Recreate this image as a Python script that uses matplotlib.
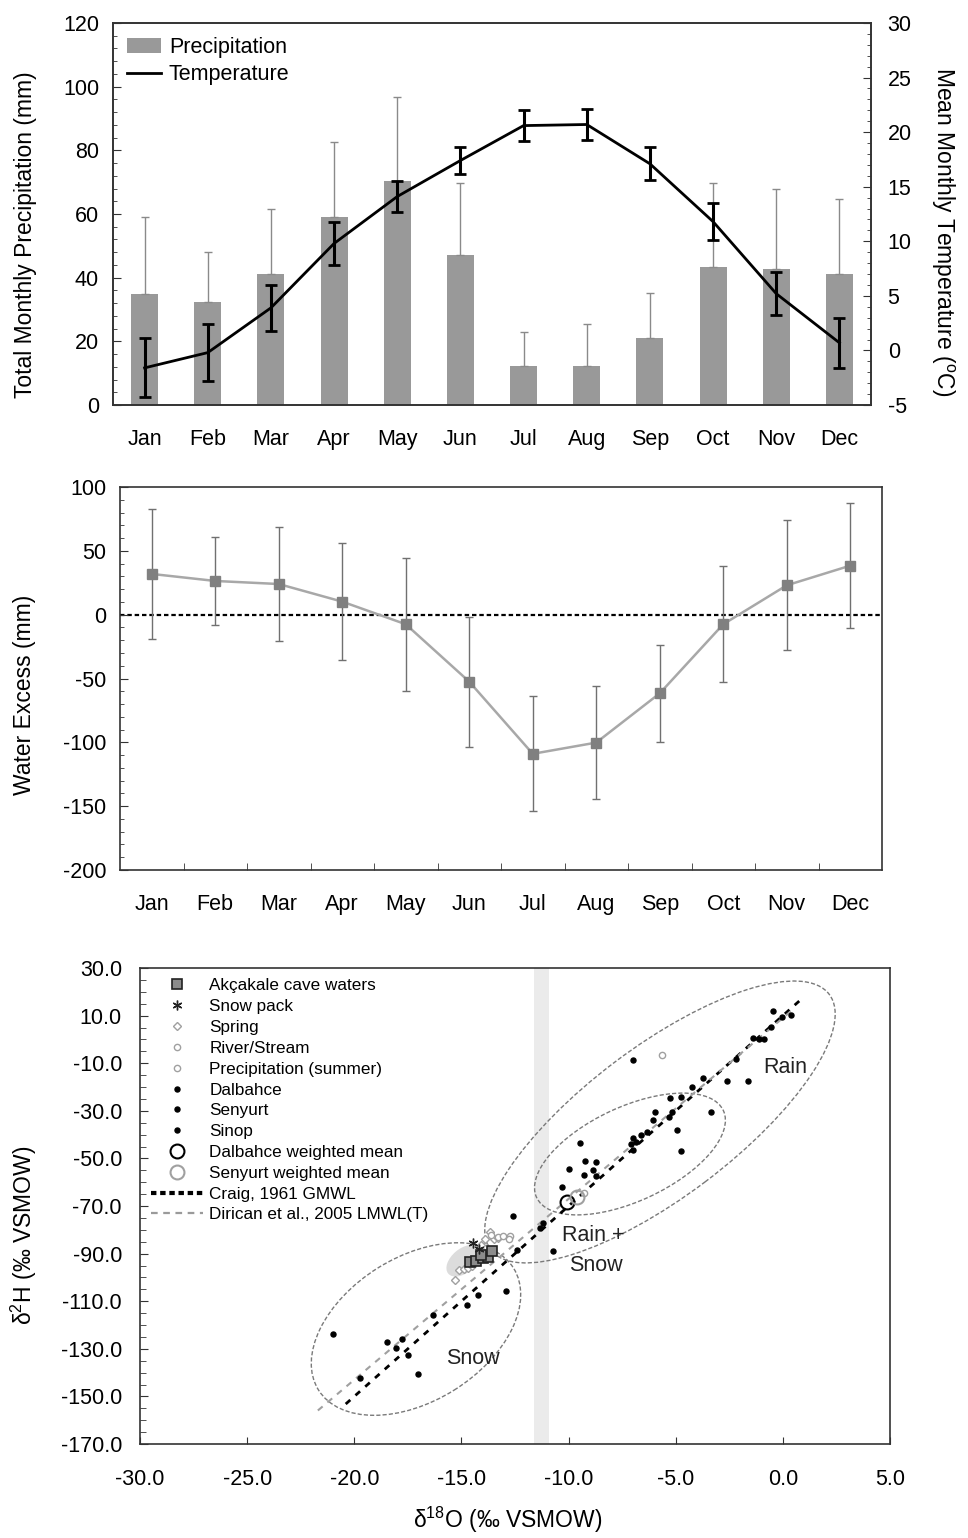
import matplotlib
matplotlib.use('Agg')
import matplotlib.pyplot as plt
import numpy as np
from matplotlib.patches import Ellipse, Patch
from matplotlib.lines import Line2D
from matplotlib import transforms
from matplotlib.ticker import MultipleLocator, FormatStrFormatter

plt.rcParams['font.family'] = ['Liberation Sans', 'DejaVu Sans']
plt.rcParams['mathtext.default'] = 'regular'
plt.rcParams['axes.unicode_minus'] = False

# ---------------- data ----------------
months = ['Jan', 'Feb', 'Mar', 'Apr', 'May', 'Jun', 'Jul', 'Aug', 'Sep', 'Oct', 'Nov', 'Dec']
precip = [35, 32.3, 41, 59, 70.4, 47.1, 12.3, 12.3, 21, 43.5, 42.7, 41]
precip_err = [24, 15.7, 20.5, 23.6, 26.4, 22.6, 10.6, 13.2, 14.2, 26.2, 25.3, 23.6]
temp = [-1.6, -0.2, 3.9, 9.8, 14.1, 17.4, 20.6, 20.7, 17.1, 11.8, 5.2, 0.7]
temp_err = [2.7, 2.6, 2.1, 1.95, 1.4, 1.2, 1.45, 1.45, 1.5, 1.7, 1.95, 2.3]
water_excess = [31.9, 26.4, 24, 10.2, -7.5, -52.5, -109, -100.2, -61.6, -7.5, 23, 38.4]
water_err = [51, 34.5, 45, 45.7, 52, 51, 45, 44, 38, 45.5, 51, 48.7]

cave_o = [-14.6, -14.3, -14.0, -13.75, -13.55, -14.1]
cave_h = [-93.5, -93.2, -92.0, -91.6, -88.8, -90.5]
snowpack_o = [-14.46, -14.2]
snowpack_h = [-85.5, -88.0]
spring_o = [-15.3, -15.1, -14.9, -14.7, -14.5, -14.2, -13.9, -13.67, -13.5, -13.3, -13.9, -14.1]
spring_h = [-101, -97, -96.5, -96, -95, -90, -87, -81, -84, -83.4, -84, -86.5]
river_o = [-13.6, -13.3, -13.05, -12.73, -12.8]
river_h = [-82, -83, -82.5, -82.5, -84]
psummer_o = [-5.66, -9.3]
psummer_h = [-6.6, -64.5]
dalbahce_o = [-20.98, -18.49, -17.79, -18.05, -17.48, -19.73, -17.01, -16.31, -14.76, -14.21,
              -12.92, -12.58, -11.18, -11.33, -12.43, -10.71, -10.32, -9.96]
dalbahce_h = [-123.9, -127.3, -126.0, -129.5, -132.6, -142.4, -140.7, -115.8, -111.6, -107.4,
              -105.6, -74.2, -77.0, -79.4, -88.5, -88.8, -61.9, -54.5]
senyurt_o = [-9.47, -9.23, -8.72, -8.88, -9.28, -8.72, -6.98, -6.87, -6.98, -6.36, -6.08,
             -5.97, -7.1, -6.6, -4.96, -4.76]
senyurt_h = [-43.4, -51.0, -51.4, -54.9, -57.0, -57.4, -41.5, -43.0, -46.5, -38.8, -33.9,
             -30.4, -44.0, -40.0, -38.1, -46.9]
sinop_o = [-5.30, -5.19, -5.27, -4.76, -4.22, -3.71, -3.33, -2.60, -1.61, -6.98, -2.19,
           -1.38, -1.1, -0.9, -0.45, -0.06, 0.37, -0.55]
sinop_h = [-32.5, -30.4, -24.8, -24.3, -20.1, -16.3, -30.4, -17.3, -17.3, -8.7, -8.4,
           0.5, 0.0, 0.3, 12.1, 9.5, 10.3, 5.3]
dal_wm_o, dal_wm_h = [-10.09], [-68.2]
sen_wm_o, sen_wm_h = [-9.62], [-66.1]
gmwl_range = [-20.4, 1.0]        # Craig 1961: d2H = 8 d18O + 10
lmwl_range = [-21.7, 0.5]        # Dirican et al. 2005: d2H = 7.6 d18O + 9
band_range = [-11.6, -10.9]

# ---------------- figure ----------------
W, H = 968, 1538
fig = plt.figure(figsize=(W / 100, H / 100), dpi=100)


def rect(l, r, t, b):
    return [l / W, 1 - b / H, (r - l) / W, (b - t) / H]


spine_c = '#333333'
x = np.arange(12)

# ---- top panel ----
ax1 = fig.add_axes(rect(113, 871, 23, 405))
ax1.bar(x, precip, width=0.43, color='#999999', zorder=2)
ax1.errorbar(x, precip, yerr=[np.zeros(12), precip_err], fmt='none', ecolor='#8a8a8a',
             elinewidth=1, capsize=3, capthick=1, zorder=2)
ax1.set_xlim(-0.5, 11.5)
ax1.set_ylim(0, 120)
ax1.yaxis.set_major_locator(MultipleLocator(20))
ax1.yaxis.set_minor_locator(MultipleLocator(4))
ax1.set_xticks(x)
ax1.set_xticklabels(months)
ax1.tick_params(axis='y', which='both', direction='in', labelsize=15.5, pad=10, color=spine_c)
ax1.tick_params(axis='y', which='major', length=6)
ax1.tick_params(axis='y', which='minor', length=3)
ax1.tick_params(axis='x', length=0, labelsize=15.5, pad=17)
ax1.set_ylabel('Total Monthly Precipitation (mm)', fontsize=16.5)
ax1.yaxis.set_label_coords(-0.1, 0.445)

ax2 = ax1.twinx()
ax2.errorbar(x, temp, yerr=temp_err, color='black', lw=2, elinewidth=2.2, capsize=4,
             capthick=2, zorder=3)
ax2.set_ylim(-5, 30)
ax2.yaxis.set_major_locator(MultipleLocator(5))
ax2.yaxis.set_minor_locator(MultipleLocator(1))
ax2.tick_params(axis='y', which='both', direction='in', labelsize=15.5, pad=12, color=spine_c)
ax2.tick_params(axis='y', which='major', length=6)
ax2.tick_params(axis='y', which='minor', length=3)
ax2.set_ylabel('Mean Monthly Temperature ($^{o}$C)', fontsize=16.5, rotation=270)
ax2.yaxis.set_label_coords(1.112, 0.455)
handles = [Patch(facecolor='#999999', edgecolor='none'), Line2D([], [], color='black', lw=2)]
ax2.legend(handles, ['Precipitation', 'Temperature'], loc='upper left', frameon=False,
           fontsize=15.5, handlelength=1.6, handletextpad=0.35, labelspacing=0.3,
           borderaxespad=0.25, bbox_to_anchor=(0.0, 1.0))
for a in (ax1, ax2):
    for s in a.spines.values():
        s.set_color(spine_c)
        s.set_linewidth(1.2)

# ---- middle panel ----
ax3 = fig.add_axes(rect(120, 882, 487, 870))
ax3.axhline(0, color='black', lw=1.6, ls=(0, (2, 1.3)), zorder=1)
ax3.errorbar(x, water_excess, yerr=water_err, color='#a8a8a8', lw=1.8, marker='s',
             ms=7, mfc='#808080', mec='#808080', ecolor='#707070', elinewidth=1,
             capsize=3, capthick=1, zorder=2)
ax3.set_xlim(-0.5, 11.5)
ax3.set_ylim(-200, 100)
ax3.yaxis.set_major_locator(MultipleLocator(50))
ax3.yaxis.set_minor_locator(MultipleLocator(10))
ax3.set_xticks(x)
ax3.set_xticklabels(months)
ax3.set_xticks(np.arange(0.5, 11, 1), minor=True)
ax3.tick_params(axis='y', which='both', direction='in', labelsize=15.5, pad=10, color=spine_c)
ax3.tick_params(axis='y', which='major', length=6)
ax3.tick_params(axis='y', which='minor', length=3)
ax3.tick_params(axis='x', which='major', length=0, labelsize=15.5, pad=17)
ax3.tick_params(axis='x', which='minor', direction='in', length=5, color=spine_c)
ax3.set_ylabel('Water Excess (mm)', fontsize=16.5)
ax3.yaxis.set_label_coords(-0.11, 0.457)
for s in ax3.spines.values():
    s.set_color(spine_c)
    s.set_linewidth(1.2)

# ---- bottom panel ----
ax4 = fig.add_axes(rect(140, 890, 968, 1444))
ax4.set_xlim(-30, 5)
ax4.set_ylim(-170, 30)
ax4.axvspan(band_range[0], band_range[1], color='#ebebeb', zorder=0, lw=0)


def draw_ellipse(ax, cx, cy, a_px, b_px, ang, **kw):
    tr = fig.dpi_scale_trans + transforms.ScaledTranslation(cx, cy, ax.transData)
    e = Ellipse((0, 0), 2 * a_px / 100, 2 * b_px / 100, angle=ang, transform=tr, **kw)
    ax.add_patch(e)


ell_kw = dict(facecolor='none', edgecolor='#7a7a7a', lw=1.0, ls=(0, (3, 1.5)), zorder=2)
draw_ellipse(ax4, -14.9, -93.0, 20, 12, 40, facecolor='#dcdcdc', edgecolor='none', zorder=1)
draw_ellipse(ax4, -17.12, -121.7, 115, 72, 32, **ell_kw)
draw_ellipse(ax4, -5.735, -34.7, 212, 75, 37, **ell_kw)
draw_ellipse(ax4, -7.135, -48.15, 103, 47, 25, **ell_kw)

gx = np.array(gmwl_range)
ax4.plot(gx, 8 * gx + 10, color='black', lw=2.0, ls=(0, (2.2, 2.5)), zorder=3)
lx = np.array(lmwl_range)
ax4.plot(lx, 7.6 * lx + 9, color='#a0a0a0', lw=1.5, ls=(0, (3, 3)), zorder=3)

ax4.plot(cave_o, cave_h, 's', ms=7, mfc='#8c8c8c', mec='#222222', mew=1.2, zorder=6,
         label='Akçakale cave waters')
ax4.plot(snowpack_o, snowpack_h, marker=(6, 2, 0), ls='none', ms=7, color='#222222',
         mew=1, zorder=6, label='Snow pack')
ax4.plot(spring_o, spring_h, 'D', ms=4, mfc='white', mec='#a0a0a0', mew=1, zorder=5,
         label='Spring')
ax4.plot(river_o, river_h, 'o', ms=4.5, mfc='white', mec='#a0a0a0', mew=1, zorder=5,
         label='River/Stream')
ax4.plot(psummer_o, psummer_h, 'o', ms=4.5, mfc='white', mec='#a0a0a0', mew=1, zorder=5,
         label='Precipitation (summer)')
ax4.plot(dalbahce_o, dalbahce_h, 'o', ms=3.6, color='black', zorder=5, label='Dalbahce')
ax4.plot(senyurt_o, senyurt_h, 'o', ms=3.6, color='black', zorder=5, label='Senyurt')
ax4.plot(sinop_o, sinop_h, 'o', ms=3.6, color='black', zorder=5, label='Sinop')
ax4.plot(dal_wm_o, dal_wm_h, 'o', ms=10, mfc='none', mec='black', mew=1.5, zorder=6,
         label='Dalbahce weighted mean')
ax4.plot(sen_wm_o, sen_wm_h, 'o', ms=10, mfc='none', mec='#a0a0a0', mew=1.5, zorder=6,
         label='Senyurt weighted mean')

ax4.text(0.1, -12, 'Rain', fontsize=15.5, ha='center', va='center', color='#222222')
ax4.text(-10.31, -82.2, 'Rain +', fontsize=15.5, ha='left', va='center', color='#222222')
ax4.text(-10.0, -94.8, 'Snow', fontsize=15.5, ha='left', va='center', color='#222222')
ax4.text(-14.46, -133.9, 'Snow', fontsize=15.5, ha='center', va='center', color='#222222')

h, l = ax4.get_legend_handles_labels()
h += [Line2D([], [], color='black', lw=3, ls=(0, (1.3, 0.9))),
      Line2D([], [], color='#9a9a9a', lw=1.6, ls=(0, (3, 2.5)))]
l += ['Craig, 1961 GMWL', 'Dirican et al., 2005 LMWL(T)']
ax4.legend(h, l, loc='upper left', bbox_to_anchor=(0.015, 0.978), frameon=False,
           fontsize=12.3, handlelength=3.0, handletextpad=0.4, labelspacing=0.34,
           borderpad=0, borderaxespad=0)

ax4.xaxis.set_major_locator(MultipleLocator(5))
ax4.yaxis.set_minor_locator(MultipleLocator(5))
ax4.set_yticks(np.arange(-170, 31, 20))
ax4.xaxis.set_major_formatter(FormatStrFormatter('%.1f'))
ax4.yaxis.set_major_formatter(FormatStrFormatter('%.1f'))
ax4.tick_params(axis='both', which='both', direction='in', labelsize=15.5, color=spine_c)
ax4.tick_params(axis='y', which='major', length=6, pad=13)
ax4.tick_params(axis='y', which='minor', length=4)
ax4.tick_params(axis='x', which='major', length=5, pad=18)
ax4.set_ylabel('δ$^{2}$H (‰ VSMOW)', fontsize=16.5)
ax4.yaxis.set_label_coords(-0.135, 0.439)
ax4.set_xlabel('δ$^{18}$O (‰ VSMOW)', fontsize=16.5)
ax4.xaxis.set_label_coords(0.49, -0.128)
for s in ax4.spines.values():
    s.set_color(spine_c)
    s.set_linewidth(1.2)

fig.savefig('out.png', dpi=100)
